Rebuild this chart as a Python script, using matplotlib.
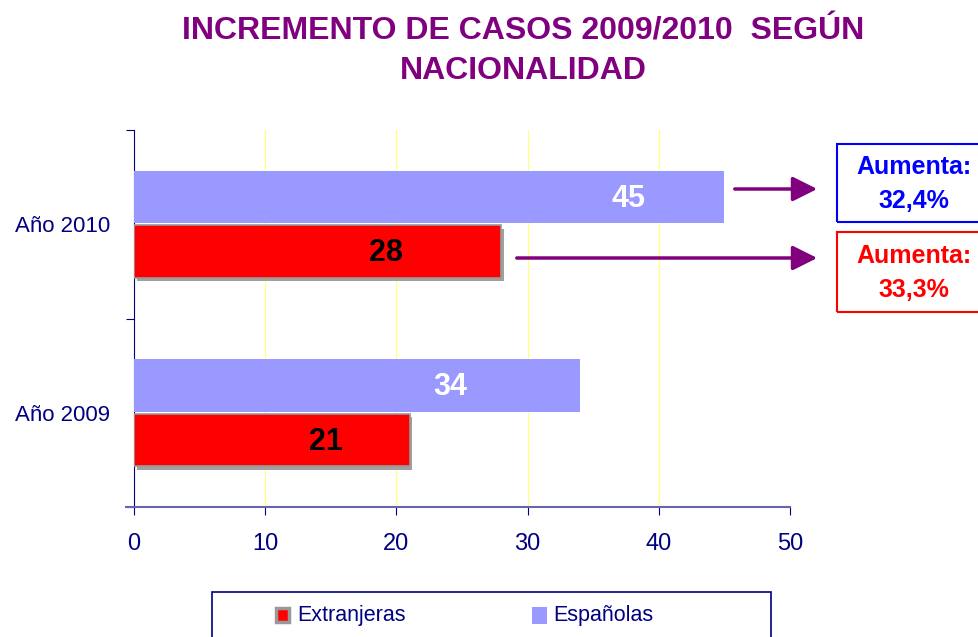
import matplotlib
matplotlib.use("Agg")
import matplotlib.pyplot as plt
from matplotlib.patches import Rectangle, FancyArrowPatch

plt.rcParams['font.family'] = ['Liberation Sans', 'DejaVu Sans']

categories = ["Año 2009", "Año 2010"]
extranjeras = [21, 28]
espanolas = [34, 45]
increments = ["Aumenta:\n33,3%", "Aumenta:\n32,4%"]  # extranjeras, españolas
title = "INCREMENTO DE CASOS 2009/2010  SEGÚN\nNACIONALIDAD"

NAVY = "#000080"
PURPLE = "#800080"
BLUE_BAR = "#9999FF"
RED_BAR = "#FF0000"

fig = plt.figure(figsize=(9.79, 6.37), dpi=100)
ax = fig.add_axes([134/979, 1-507/637, (790-134)/979, (507-130)/637])

h = 0.28
off = 0.145
ypos = [0.5, 1.5]
for i, y in enumerate(ypos):
    ax.barh(y + off, espanolas[i], height=h, color=BLUE_BAR, zorder=3)
    # shadow for red bar
    ax.barh(y - off - 0.018, extranjeras[i], height=h, left=0.22, color="#A0A0A0", zorder=2.5)
    ax.barh(y - off, extranjeras[i], height=h, color=RED_BAR, edgecolor="#999999",
            linewidth=1.2, zorder=3)

# value labels (placed inside bars like the reference)
lab_frac_blue = [0.71, 0.837]
lab_frac_red = [0.695, 0.685]
for i, y in enumerate(ypos):
    ax.text(espanolas[i] * lab_frac_blue[i], y + off - 0.01, str(espanolas[i]), color="white",
            fontsize=22, fontweight="bold", ha="center", va="center", zorder=5)
    ax.text(extranjeras[i] * lab_frac_red[i], y - off - 0.01, str(extranjeras[i]), color="black",
            fontsize=22, fontweight="bold", ha="center", va="center", zorder=5)

ax.set_xlim(0, 50)
ax.set_ylim(0, 2)
ax.set_xticks([0, 10, 20, 30, 40, 50])
ax.xaxis.grid(True, color="#FFFF80", linewidth=0.9, zorder=0)
ax.set_axisbelow(True)
ax.tick_params(axis="x", colors=NAVY, labelsize=17, length=6, direction="out", pad=13,
               labelcolor=NAVY)
ax.set_yticks([0, 1, 2])
ax.set_yticklabels([])
ax.set_yticks(ypos, minor=True)
ax.set_yticklabels(categories, minor=True)
ax.tick_params(axis="y", which="major", length=6, color=NAVY)
ax.tick_params(axis="y", which="minor", length=0, labelsize=16, labelcolor=NAVY, pad=17)
for s in ["top", "right"]:
    ax.spines[s].set_visible(False)
ax.spines["left"].set_color(NAVY)
ax.spines["bottom"].set_color("#6666AA")
ax.spines["bottom"].set_linewidth(1.5)
ax.plot([-0.012, 0], [0, 0], transform=ax.transAxes, color="#6666AA", lw=1.5, clip_on=False)

fig.text(523/979, 1-51/637, title, color=PURPLE, fontsize=23, fontweight="bold",
         ha="center", va="center", linespacing=1.42)

def fx(px):
    return px/979
def fy(py):
    return 1 - py/637

for (x0, x1, yy) in [(732, 820, 189), (514, 820, 258)]:
    fig.add_artist(FancyArrowPatch((fx(x0), fy(yy)), (fx(x1), fy(yy)),
                   transform=fig.transFigure, arrowstyle="-|>,head_length=10,head_width=5",
                   color=PURPLE, linewidth=2.5, mutation_scale=1.5))

# boxes
box_specs = [(144, 222, "#0000FF", increments[1]), (232, 312, "#FF0000", increments[0])]
for (y0, y1, col, txt) in box_specs:
    fig.add_artist(Rectangle((fx(837), fy(y1)), fx(1000) - fx(837), fy(y0) - fy(y1),
                             transform=fig.transFigure, fill=False, edgecolor=col,
                             linewidth=1.5, clip_on=False))
    fig.text(fx(914), fy((y0 + y1) / 2 + 1), txt, color=col, fontsize=18, fontweight="bold",
             ha="center", va="center", linespacing=1.55)

# legend box
fig.add_artist(Rectangle((fx(212), fy(660)), fx(771) - fx(212), fy(592) - fy(660),
                         transform=fig.transFigure, fill=False, edgecolor=NAVY,
                         linewidth=1.2, clip_on=False))
fig.add_artist(Rectangle((fx(276), fy(622)), fx(13), fy(608) - fy(622), transform=fig.transFigure,
                         facecolor=RED_BAR, edgecolor="#999999", linewidth=2.5))
fig.text(fx(297), fy(615), "Extranjeras", color=NAVY, fontsize=15.5, ha="left", va="center")
fig.add_artist(Rectangle((fx(532), fy(624)), fx(15), fy(607) - fy(624), transform=fig.transFigure,
                         facecolor=BLUE_BAR, edgecolor="none"))
fig.text(fx(553), fy(615), "Españolas", color=NAVY, fontsize=15.5, ha="left", va="center")

fig.savefig("out.png", dpi=100)
